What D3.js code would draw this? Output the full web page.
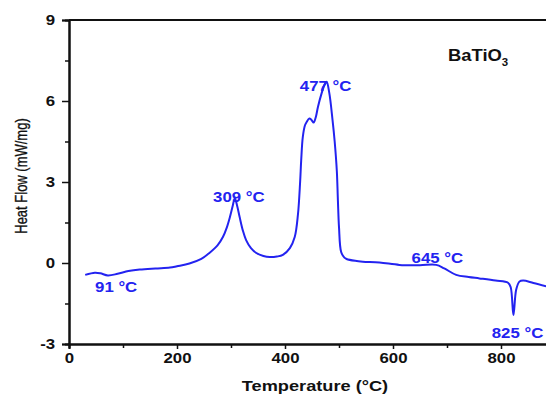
<!DOCTYPE html>
<html>
<head>
<meta charset="utf-8">
<script src="https://cdn.jsdelivr.net/npm/d3@7"></script>
<style>
  body { margin: 0; background: #fff; }
  text { font-family: "Liberation Sans", Arial, sans-serif; }
</style>
</head>
<body>
<script>
// DSC curve of BaTiO3
var temperature = [30, 48, 58, 72, 90, 110, 131, 160, 187, 200, 223, 245, 260, 275, 285, 292, 298, 303, 307,
    311, 316, 322, 328, 337, 347, 360, 372, 385, 396, 409, 418, 424, 428, 430, 433, 437, 440, 445, 449,
    453, 457, 461, 468, 473, 477, 482, 488, 492, 496, 498, 500, 504, 510, 514, 530, 544, 575, 612, 650,
    680, 695, 717, 740, 760, 790, 813, 818, 823, 828, 834, 841, 860, 890];
var heatFlow = [-0.44, -0.36, -0.38, -0.46, -0.40, -0.30, -0.24, -0.20, -0.17, -0.12, -0.02, 0.15, 0.37, 0.65, 0.96, 1.3, 1.7, 2.1, 2.4,
    2.15, 1.7, 1.2, 0.85, 0.55, 0.37, 0.26, 0.22, 0.24, 0.3, 0.55, 0.96, 1.8, 3.0, 3.81, 4.67, 5.1, 5.22, 5.35, 5.3,
    5.2, 5.4, 5.78, 6.3, 6.6, 6.71, 6.3, 5.3, 4.5, 3.4, 2.3, 1.33, 0.41, 0.2, 0.15, 0.08, 0.05, 0.02, -0.07, -0.08,
    -0.07, -0.2, -0.44, -0.52, -0.57, -0.65, -0.73, -0.9, -1.93, -1.0, -0.69, -0.65, -0.74, -0.9];

var xMajor = [0, 200, 400, 600, 800];
var xMinor = [100, 300, 500, 700, 900];
var yMajor = [-3, 0, 3, 6, 9];
var yMinor = [-1.5, 1.5, 4.5, 7.5];

var peakLabels = [
    { t: 91, v: -0.46, text: "91 °C", dx: -2, dy: 17 },
    { t: 309, v: 2.4, text: "309 °C", dx: 3, dy: 4 },
    { t: 477, v: 6.71, text: "477 °C", dx: -1, dy: 9 },
    { t: 645, v: -0.08, text: "645 °C", dx: 20, dy: -2 },
    { t: 825, v: -1.93, text: "825 °C", dx: 3, dy: 23 }
];

var width = 546, height = 394;
var margin = { left: 69, top: 20, bottom: 50 };

var x = d3.scaleLinear().domain([0, 900]).range([margin.left, margin.left + 486]);
var y = d3.scaleLinear().domain([-3, 9]).range([height - margin.bottom, margin.top]);

var svg = d3.select("body").append("svg")
    .attr("width", width)
    .attr("height", height);

var blue = "#2323f0";
var stretch = 1.2;

// Curve
var data = temperature.map(function (t, i) { return { t: t, v: heatFlow[i] }; });
svg.append("path")
    .datum(data)
    .attr("fill", "none")
    .attr("stroke", blue)
    .attr("stroke-width", 2)
    .attr("d", d3.line()
        .x(d => x(d.t))
        .y(d => y(d.v))
        .curve(d3.curveCatmullRom.alpha(0.5)));

// Axes (plain hyphen for negatives, like the original)
var plain = d => String(d);
var xAxis = svg.append("g")
    .attr("transform", "translate(0," + y(-3) + ")")
    .call(d3.axisBottom(x).tickValues(xMajor).tickSize(5).tickPadding(4).tickFormat(plain));
svg.append("g")
    .attr("transform", "translate(0," + y(-3) + ")")
    .call(d3.axisBottom(x).tickValues(xMinor).tickSize(4).tickFormat(""));

var yAxis = svg.append("g")
    .attr("transform", "translate(" + x(0) + ",0)")
    .call(d3.axisLeft(y).tickValues(yMajor).tickSize(7).tickPadding(4).tickFormat(plain));
svg.append("g")
    .attr("transform", "translate(" + x(0) + ",0)")
    .call(d3.axisLeft(y).tickValues(yMinor).tickSize(4).tickFormat(""));

svg.selectAll(".domain").attr("stroke", "#111").attr("stroke-width", 2);
svg.selectAll(".tick line").attr("stroke", "#111").attr("stroke-width", 1.5);
svg.selectAll(".tick text")
    .attr("font-family", "Liberation Sans, Arial, sans-serif")
    .attr("font-size", 14)
    .attr("font-weight", "bold")
    .attr("fill", "#111");
xAxis.selectAll(".tick text").attr("transform", "scale(" + stretch + ",1)");
yAxis.selectAll(".tick text").attr("transform", "scale(" + stretch + ",1)").attr("x", -11.5);

// top frame line
svg.append("line")
    .attr("x1", x(0)).attr("x2", width)
    .attr("y1", y(9)).attr("y2", y(9))
    .attr("stroke", "#111").attr("stroke-width", 2);

// Axis titles
svg.append("text")
    .attr("transform", "translate(315," + (height - 3) + ") scale(1.3,1)")
    .attr("text-anchor", "middle")
    .attr("font-size", 14)
    .attr("font-weight", "bold")
    .attr("fill", "#111")
    .text("Temperature (°C)");

svg.append("text")
    .attr("transform", "translate(27,176) rotate(-90) scale(1,1.3)")
    .attr("text-anchor", "middle")
    .attr("font-size", 13)
    .attr("fill", "#111")
    .attr("stroke", "#111")
    .attr("stroke-width", 0.25)
    .text("Heat Flow (mW/mg)");

// Peak annotations
peakLabels.forEach(function (p) {
    svg.append("text")
        .attr("transform", "translate(" + (x(p.t) + p.dx) + "," + (y(p.v) + p.dy) + ") scale(" + stretch + ",1)")
        .attr("text-anchor", "middle")
        .attr("font-size", 14)
        .attr("font-weight", "bold")
        .attr("fill", blue)
        .text(p.text);
});

// Sample name
var sampleLabel = svg.append("text")
    .attr("transform", "translate(448,61) scale(1.15,1)")
    .attr("font-size", 16)
    .attr("font-weight", "bold")
    .attr("fill", "#111");
sampleLabel.append("tspan").text("BaTiO");
sampleLabel.append("tspan").attr("dy", 5).attr("font-size", 10).text("3");
</script>
</body>
</html>
